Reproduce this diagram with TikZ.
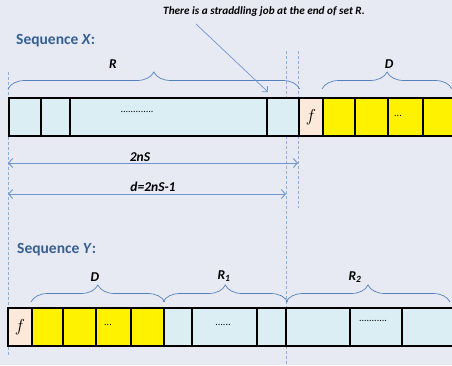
\documentclass[tikz,border=0pt]{standalone}
\usepackage{fontspec}
\setmainfont{Carlito}
\usetikzlibrary{arrows.meta,decorations.pathreplacing}
\definecolor{bgc}{RGB}{231,234,243}
\definecolor{cellblue}{RGB}{219,238,244}
\definecolor{peach}{RGB}{253,233,217}
\definecolor{guide}{RGB}{140,175,215}
\definecolor{bracec}{RGB}{84,130,190}
\definecolor{heading}{RGB}{54,96,146}
\definecolor{dimline}{RGB}{110,150,210}

\begin{document}
\begin{tikzpicture}[x=1pt,y=-1pt,
  cell/.style={draw=black, line width=1.7pt, inner sep=0pt, anchor=north west,
               minimum height=38pt},
  rcell/.style={cell, fill=cellblue},
  dcell/.style={cell, fill=yellow},
  fcell/.style={cell, fill=peach, font=\fontsize{17}{17}\selectfont},
  heading/.style={font=\fontsize{15.5}{15.5}\selectfont\bfseries, text=heading, anchor=west, inner sep=0pt},
  lbl/.style={font=\fontsize{13.5}{13.5}\selectfont\bfseries\itshape, inner sep=0pt},
  dots/.style={font=\fontsize{10}{10}\selectfont, inner sep=0pt},
  guideline/.style={draw=guide, line width=0.8pt, dash pattern=on 3pt off 2pt},
  brace/.style={draw=bracec, line width=0.7pt,
                decorate, decoration={brace, amplitude=17pt}},
  dimarrow/.style={draw=dimline, line width=0.9pt,
                   {Straight Barb[length=4pt,width=9pt]}-{Straight Barb[length=4pt,width=9pt]}},
  notearrow/.style={draw=dimline, line width=0.7pt,
                    -{Straight Barb[length=4pt,width=8pt]}}
]
\clip (0,0) rectangle (452,365);
\fill[bgc] (0,0) rectangle (452,365);

% ---------- headings and note ----------
\node[heading] (hx) at (16,41) {Sequence \textit{X}:};
\node[heading] (hy) at (17,250) {Sequence \textit{Y}:};
\node[font=\fontsize{11.2}{11.2}\selectfont\bfseries\itshape, inner sep=0pt] (note) at (264,12)
  {There is a straddling job at the end of set R.};

% ---------- guide lines ----------
\coordinate (gL1) at (8,72);   \coordinate (gL2) at (8,355);
\coordinate (gM1) at (286,51); \coordinate (gM2) at (286,365);
\coordinate (gR1) at (298,51); \coordinate (gR2) at (298,208);
\draw[guideline] (gL1) -- (gL2);
\draw[guideline] (gM1) -- (gM2);
\draw[guideline] (gR1) -- (gR2);

% ---------- sequence X ----------
\node[rcell, minimum width=32pt]  (xa) at (8,97) {};
\node[rcell, minimum width=29pt]  (xb) at (40,97) {};
\node[rcell, minimum width=197pt] (xc) at (69,97) {};
\node[rcell, minimum width=32pt]  (xd) at (266,97) {};
\node[fcell, minimum width=24pt]  (xf) at (298,97) {$f$};
\node[dcell, minimum width=32pt]  (xy1) at (322,97) {};
\node[dcell, minimum width=33pt]  (xy2) at (354,97) {};
\node[dcell, minimum width=35pt]  (xy3) at (387,97) {};
\node[dcell, minimum width=40pt]  (xy4) at (422,97) {};
\node[dots] (xcdots) at (137,112) {.............};
\node[dots] (xydots) at (398,116) {...};

\draw[brace] ([yshift=8pt]xa.north west) -- ([yshift=8pt]xd.north east);
\draw[brace] ([yshift=8pt]xy1.north west) -- ([xshift=30pt,yshift=8pt]xy4.north west);
\node[lbl] (lR) at (113,64) {R};
\node[lbl] (lD) at (389,64) {D};

% ---------- dimensions ----------
\coordinate (a1l) at (8,163);  \coordinate (a1r) at (298,163);
\coordinate (a2l) at (8,194);  \coordinate (a2r) at (286,194);
\draw[dimarrow] (a1l) -- (a1r);
\draw[dimarrow] (a2l) -- (a2r);
\node[lbl] (l2ns) at (140,157) {2nS};
\node[lbl] (ld) at (153,187) {d=2nS-1};

% ---------- note arrow ----------
\coordinate (nstart) at (196,24);
\coordinate (nend) at (268,92);
\draw[notearrow] (nstart) -- (nend);

% ---------- sequence Y ----------
\node[fcell, minimum width=24pt]  (yf) at (7,307) {$f$};
\node[dcell, minimum width=31pt]  (yy1) at (31,307) {};
\node[dcell, minimum width=33pt]  (yy2) at (62,307) {};
\node[dcell, minimum width=35pt]  (yy3) at (95,307) {};
\node[dcell, minimum width=33pt]  (yy4) at (130,307) {};
\node[rcell, minimum width=28pt]  (yb1) at (163,307) {};
\node[rcell, minimum width=65pt]  (yb2) at (191,307) {};
\node[rcell, minimum width=29pt]  (yb3) at (256,307) {};
\node[rcell, minimum width=64pt]  (yb4) at (285,307) {};
\node[rcell, minimum width=52pt]  (yb5) at (349,307) {};
\node[rcell, minimum width=60pt]  (yb6) at (401,307) {};
\node[dots] (yydots) at (108,325) {...};
\node[dots] (ybdots1) at (223,325) {......};
\node[dots] (ybdots2) at (373,321) {...........};

\draw[brace] ([yshift=5pt]yy1.north west) -- ([yshift=5pt]yy4.north east);
\draw[brace] ([yshift=5pt]yb1.north west) -- ([xshift=1pt,yshift=5pt]yb3.north east);
\draw[brace] ([xshift=1pt,yshift=5pt]yb4.north west) -- ([xshift=49pt,yshift=5pt]yb6.north west);
\node[lbl] (lD2) at (95,277) {D};
\node[lbl] (lR1) at (224,276) {R\textsubscript{1}};
\node[lbl] (lR2) at (355,277) {R\textsubscript{2}};
\end{tikzpicture}
\end{document}
